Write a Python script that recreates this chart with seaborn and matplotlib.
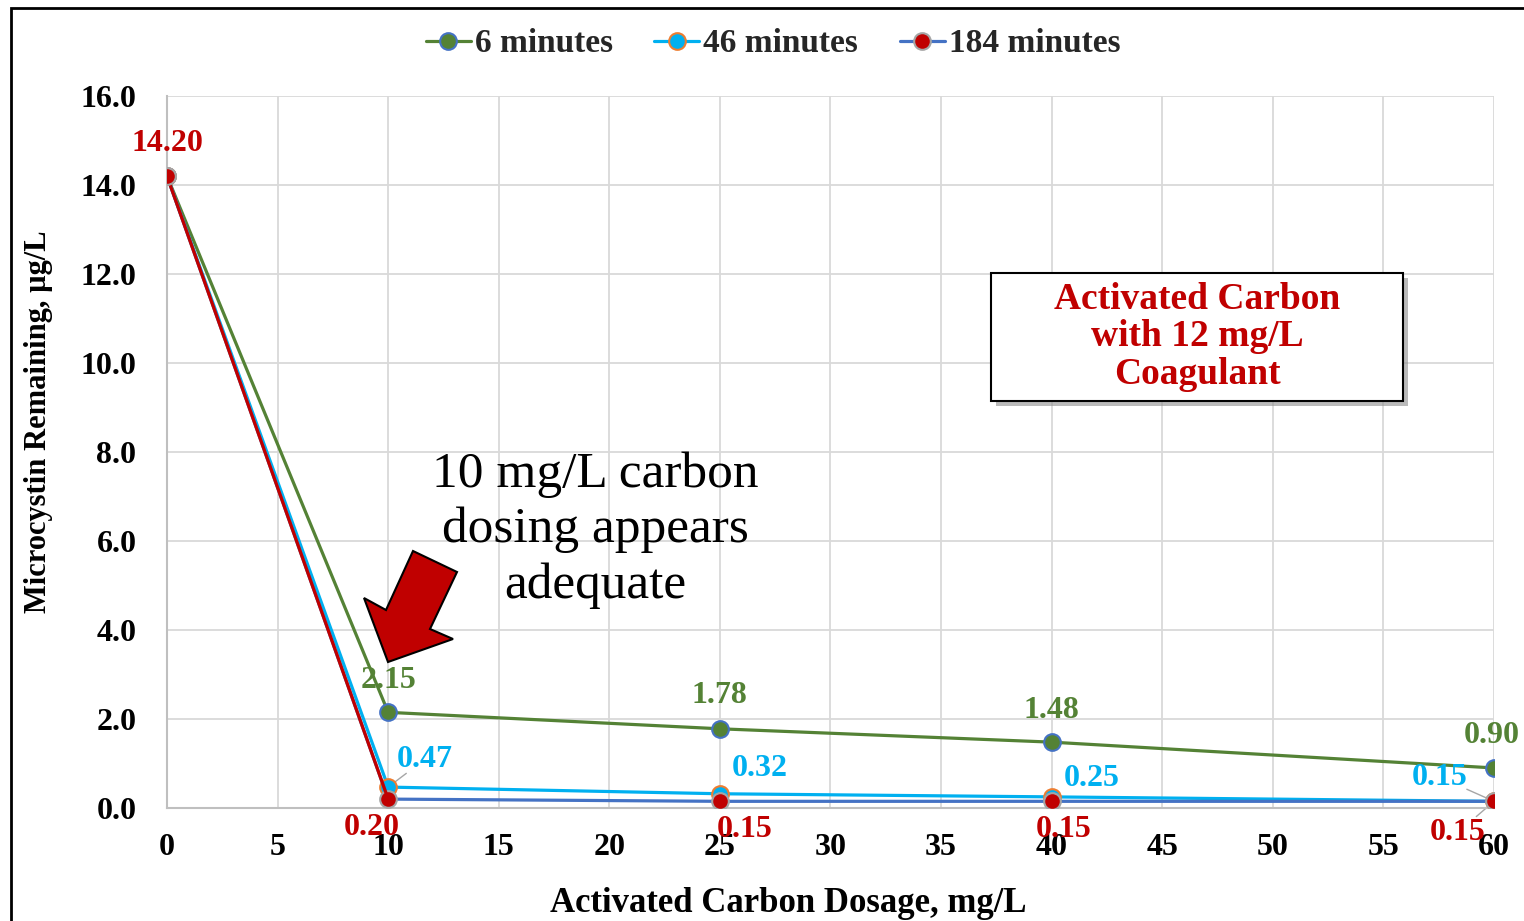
import matplotlib
matplotlib.use("Agg")
import matplotlib.pyplot as plt
from matplotlib.lines import Line2D
from matplotlib.patches import Polygon, Rectangle
import pandas as pd
import seaborn as sns

# ---- data -------------------------------------------------------------
dosage = [0, 10, 25, 40, 60]
series_names = ["6 minutes", "46 minutes", "184 minutes"]
min6 = [14.20, 2.15, 1.78, 1.48, 0.90]
min46 = [14.20, 0.47, 0.32, 0.25, 0.15]
min184 = [14.20, 0.20, 0.15, 0.15, 0.15]
x_ticks = list(range(0, 65, 5))
y_ticks = [0, 2, 4, 6, 8, 10, 12, 14, 16]

# ---- styling ----------------------------------------------------------
GREEN = "#548235"
CYAN = "#00B0F0"
BLUE = "#4472C4"
RED = "#C00000"
ORANGE = "#ED7D31"
GRAYEDGE = "#A5A5A5"
LW = 2.3
MS = 12

sns.set_theme(style="whitegrid")
plt.rcParams["font.family"] = ["Liberation Serif", "DejaVu Serif"]
plt.rcParams["font.weight"] = "bold"

W, H = 1524, 921
fig = plt.figure(figsize=(W / 100, H / 100), dpi=100)
ax = fig.add_axes([167 / W, 1 - 808 / H, (1494 - 167) / W, (808 - 96) / H])

df = pd.DataFrame({
    "dosage": dosage * 3,
    "value": min6 + min46 + min184,
    "series": sum([[n] * len(dosage) for n in series_names], []),
})

line_style = {
    "6 minutes": dict(color=GREEN, mfc=GREEN, mec=BLUE),
    "46 minutes": dict(color=CYAN, mfc=CYAN, mec=ORANGE),
    "184 minutes": dict(color=BLUE, mfc=RED, mec=GRAYEDGE),
}

for i, name in enumerate(series_names):
    sub = df[df["series"] == name]
    st = line_style[name]
    sns.lineplot(data=sub, x="dosage", y="value", ax=ax, color=st["color"],
                 linewidth=LW, marker="o", markersize=MS,
                 markerfacecolor=st["mfc"], markeredgecolor=st["mec"],
                 markeredgewidth=1.5, zorder=3 + i, legend=False)
    if name == "184 minutes":
        # first segment of this series is drawn in red
        first = sub.iloc[:2]
        ax.plot(first["dosage"], first["value"], color=RED, linewidth=LW,
                zorder=3 + i)
        ax.plot(first["dosage"].iloc[:1], first["value"].iloc[:1], "o",
                color=RED, markersize=MS, mfc=RED, mec=GRAYEDGE, mew=1.5,
                zorder=6)

ax.set_xlim(0, 60)
ax.set_ylim(0, 16)
ax.set_xticks(x_ticks)
ax.set_yticks(y_ticks)
ax.set_xticklabels([str(t) for t in x_ticks], fontsize=23, fontweight="bold")
ax.set_yticklabels([f"{t:.1f}" for t in y_ticks], fontsize=23, fontweight="bold")
ax.tick_params(axis="x", pad=18, length=0, colors="black")
ax.tick_params(axis="y", pad=22, length=0, colors="black")
ax.grid(True, color="#D9D9D9", linewidth=1.3)
ax.set_facecolor("white")
for side in ["top", "right"]:
    ax.spines[side].set_visible(False)
for side in ["left", "bottom"]:
    ax.spines[side].set_color("#BFBFBF")
    ax.spines[side].set_linewidth(1.5)

ax.set_xlabel("Activated Carbon Dosage, mg/L", fontsize=25, fontweight="bold",
              color="black")
ax.xaxis.set_label_coords((788 - 167) / 1327, (808 - 903) / 712)
ax.set_ylabel("Microcystin Remaining, µg/L", fontsize=22, fontweight="bold",
              color="black")
ax.yaxis.set_label_coords((38 - 167) / 1327, (808 - 422) / 712)
ax.xaxis.label.set_va("center")
ax.yaxis.label.set_va("center")

# ---- data labels ------------------------------------------------------
label_offsets = {
    "6 minutes": [None, (0, 32), (0, 33), (0, 32), (-2, 32)],
    "46 minutes": [None, (37, 28), (40, 25), (40, 18), (-54, 24)],
    "184 minutes": [(0, 33), (-16, -28), (25, -28), (12, -28), (-36, -31)],
}
label_colors = {"6 minutes": GREEN, "46 minutes": CYAN, "184 minutes": RED}
series_values = {"6 minutes": min6, "46 minutes": min46, "184 minutes": min184}
leaders = {("46 minutes", 1), ("46 minutes", 4), ("184 minutes", 4)}

for name in series_names:
    for j, (xv, yv) in enumerate(zip(dosage, series_values[name])):
        off = label_offsets[name][j]
        if off is None:
            continue
        ax.annotate(f"{yv:.2f}", (xv, yv), xytext=off, textcoords="offset pixels",
                    ha="center", va="center", fontsize=23, fontweight="bold",
                    color=label_colors[name], zorder=10, annotation_clip=False)
        if (name, j) in leaders:
            ax.annotate("", (xv, yv), xytext=(off[0] * 0.55, off[1] * 0.55),
                        textcoords="offset pixels",
                        arrowprops=dict(arrowstyle="-", color="#A6A6A6", lw=1),
                        annotation_clip=False, zorder=2)

# ---- legend -----------------------------------------------------------
handles = [Line2D([0], [0], color=line_style[n]["color"], lw=LW, marker="o",
                  markersize=MS, mfc=line_style[n]["mfc"],
                  mec=line_style[n]["mec"], mew=1.5) for n in series_names]
fig.legend(handles, series_names, loc="center", ncol=3,
           bbox_to_anchor=(773 / W, 1 - 44 / H), frameon=False,
           prop=dict(size=24, weight="bold"), handlelength=1.35,
           handletextpad=0.12, columnspacing=1.25)

# ---- annotations ------------------------------------------------------
fig.text(595 / W, 1 - 530 / H, "10 mg/L carbon\ndosing appears\nadequate",
         ha="center", va="center", fontsize=37, fontweight="normal",
         linespacing=1.26, color="black")

arrow_px = [(388, 662), (364, 598), (386, 610), (413, 551), (457, 572),
            (430, 629), (453, 639)]
fig.patches.append(Polygon([(x / W, 1 - y / H) for x, y in arrow_px],
                           closed=True, facecolor=RED, edgecolor="black",
                           linewidth=1.5, transform=fig.transFigure,
                           figure=fig, zorder=8))

bx0, by0, bx1, by1 = 991, 273, 1403, 401
fig.patches.append(Rectangle(((bx0 + 5) / W, 1 - (by1 + 5) / H),
                             (bx1 - bx0) / W, (by1 - by0) / H,
                             facecolor="#8C8C8C", edgecolor="none", alpha=0.6,
                             transform=fig.transFigure, figure=fig, zorder=7))
fig.patches.append(Rectangle((bx0 / W, 1 - by1 / H), (bx1 - bx0) / W,
                             (by1 - by0) / H, facecolor="white",
                             edgecolor="black", linewidth=1.5,
                             transform=fig.transFigure, figure=fig, zorder=8))
fig.text((bx0 + bx1) / 2 / W, 1 - 337 / H,
         "Activated Carbon\nwith 12 mg/L\nCoagulant", ha="center", va="center",
         fontsize=27, fontweight="bold", color=RED, linespacing=1.08, zorder=9)

# outer frame
fig.patches.append(Rectangle((11 / W, -0.05), 1.2, 1 - 8 / H + 0.05,
                             facecolor="none", edgecolor="black", linewidth=2,
                             transform=fig.transFigure, figure=fig, zorder=1))

fig.savefig("out.png", dpi=100, facecolor="white")
